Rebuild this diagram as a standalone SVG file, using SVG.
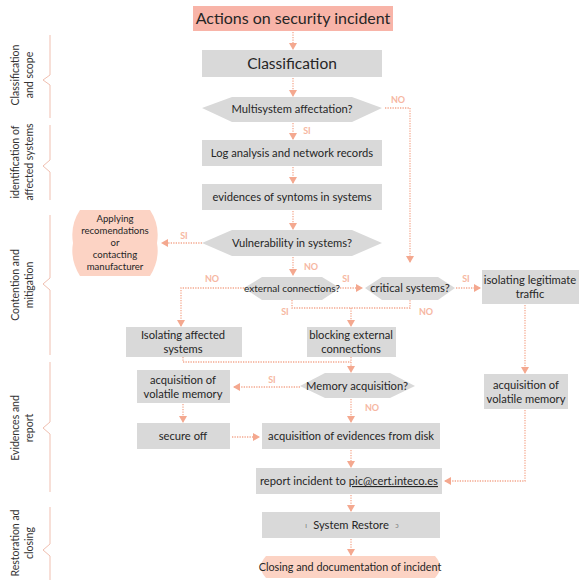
<svg xmlns="http://www.w3.org/2000/svg" width="579" height="580" viewBox="0 0 579 580">
<defs>
<marker id="ah" markerUnits="userSpaceOnUse" markerWidth="10" markerHeight="8" refX="6" refY="4" orient="auto">
<path d="M0,0 L7,4 L0,8 z" fill="#f4a88f"/>
</marker>
<style>
text{font-family:Lato,"Open Sans","DejaVu Sans",sans-serif;fill:#262626;text-anchor:middle}
.box{fill:#d9d9d9}
.dec{fill:#d9d9d9}
.pink{fill:#fcd3c4}
.t12{font-size:11.2px}
.t11{font-size:10px}
.ta{font-size:9.6px}
.lbl{font-size:9px;font-weight:bold;fill:#f6b7a2}
.side{font-size:10.5px;fill:#333}
.br{fill:none;stroke:#f0bfb0;stroke-width:1}
.c{fill:none;stroke:#f4a88f;stroke-width:1.3;stroke-dasharray:1.3 1.2}
.ca{fill:none;stroke:#f4a88f;stroke-width:1.3;stroke-dasharray:1.3 1.2;marker-end:url(#ah)}
</style>
</defs>

<g id="side-labels">
<path class="br" d="M50,35 V75 L43,80 L50,85 V118"/>
<text class="side" transform="translate(19,75) rotate(-90)">Classification</text>
<text class="side" transform="translate(33,75) rotate(-90)">and scope</text>
<path class="br" d="M50,125 V160 L43,166 L50,172 V200"/>
<text class="side" transform="translate(19,162) rotate(-90)">identification of</text>
<text class="side" transform="translate(33,162) rotate(-90)">affected systems</text>
<path class="br" d="M50,215 V278 L43,284 L50,290 V355"/>
<text class="side" transform="translate(19,285) rotate(-90)">Contention and</text>
<text class="side" transform="translate(33,285) rotate(-90)">mitigation</text>
<path class="br" d="M50,362 V422 L43,428 L50,434 V492"/>
<text class="side" transform="translate(19,428) rotate(-90)">Evidences and</text>
<text class="side" transform="translate(33,428) rotate(-90)">report</text>
<path class="br" d="M50,507 V544 L43,550 L50,556 V580"/>
<text class="side" transform="translate(19,543) rotate(-90)">Restoration ad</text>
<text class="side" transform="translate(33,543) rotate(-90)">closing</text>
</g>

<g id="connectors">
<path class="ca" d="M293,32 V49"/>
<path class="ca" d="M293,78 V96"/>
<path class="ca" d="M293,123 V139"/>
<path class="ca" d="M293,167 V183"/>
<path class="ca" d="M293,211 V229"/>
<path class="ca" d="M385,108 H410 V262"/>
<path class="ca" d="M202,243 H162"/>
<path class="ca" d="M293,257 V275"/>
<path class="ca" d="M340,288 H362"/>
<path class="ca" d="M456,288 H480"/>
<path class="ca" d="M244,288 H181 V326"/>
<path class="c" d="M292,300 V308 H410 V300"/>
<path class="ca" d="M351,308 V326"/>
<path class="c" d="M183,357 V362 H351"/>
<path class="ca" d="M351,357 V372"/>
<path class="ca" d="M300,387 H234"/>
<path class="ca" d="M183,404 V422"/>
<path class="ca" d="M232,437 H259"/>
<path class="ca" d="M351,399 V422"/>
<path class="ca" d="M351,450 V467"/>
<path class="ca" d="M525,305 V373"/>
<path class="ca" d="M525,410 V481 H445"/>
<path class="ca" d="M351,495 V511"/>
<path class="ca" d="M351,539 V555"/>
<text class="lbl" x="398" y="103">NO</text>
<text class="lbl" x="307" y="134">SI</text>
<text class="lbl" x="184" y="239">SI</text>
<text class="lbl" x="311" y="270">NO</text>
<text class="lbl" x="346" y="282">SI</text>
<text class="lbl" x="466" y="282">SI</text>
<text class="lbl" x="212" y="282">NO</text>
<text class="lbl" x="285" y="315">SI</text>
<text class="lbl" x="426" y="315">NO</text>
<text class="lbl" x="272" y="383">SI</text>
<text class="lbl" x="372" y="411">NO</text>
</g>

<g id="n-title">
<rect x="193" y="6" width="200" height="25" fill="#f8b4a8"/>
<text x="293" y="24" style="font-size:16px">Actions on security incident</text>
</g>
<g id="n-classification">
<rect class="box" x="202" y="50" width="180" height="27"/>
<text x="292" y="69" style="font-size:15.5px">Classification</text>
</g>
<g id="n-multisystem">
<polygon class="dec" points="202,108 232,97 352,97 382,108 352,122 232,122"/>
<text class="t12" x="292" y="113">Multisystem affectation?</text>
</g>
<g id="n-log">
<rect class="box" x="202" y="140" width="180" height="26"/>
<text class="t12" x="292" y="157">Log analysis and network records</text>
</g>
<g id="n-evidences">
<rect class="box" x="202" y="184" width="180" height="26"/>
<text class="t12" x="292" y="201">evidences of syntoms in systems</text>
</g>
<g id="n-vulnerability">
<polygon class="dec" points="202,243 232,230 352,230 382,243 352,256 232,256"/>
<text class="t12" x="292" y="247">Vulnerability in systems?</text>
</g>
<g id="n-applying">
<path class="pink" d="M80,210 H150 Q160,225 157,243 Q160,260 150,276 H80 Q70,260 73,243 Q70,225 80,210 Z"/>
<text class="ta" x="115" y="222">Applying</text>
<text class="ta" x="115" y="234">recomendations</text>
<text class="ta" x="115" y="246">or</text>
<text class="ta" x="115" y="258">contacting</text>
<text class="ta" x="115" y="270">manufacturer</text>
</g>
<g id="n-external">
<polygon class="dec" points="244,288 262,277 322,277 340,288 322,300 262,300"/>
<text class="t11" x="292" y="292">external connections?</text>
</g>
<g id="n-critical">
<polygon class="dec" points="365,288 382,277 438,277 455,288 438,300 382,300"/>
<text class="t12" x="410" y="292">critical systems?</text>
</g>
<g id="n-legit">
<rect class="box" x="482" y="270" width="97" height="34"/>
<text class="t12" x="530" y="284">isolating legitimate</text>
<text class="t12" x="530" y="298">traffic</text>
</g>
<g id="n-isolating">
<rect class="box" x="126" y="327" width="116" height="30"/>
<text class="t12" x="183" y="339">Isolating affected</text>
<text class="t12" x="183" y="353">systems</text>
</g>
<g id="n-blocking">
<rect class="box" x="307" y="327" width="89" height="30"/>
<text class="t12" x="351" y="339">blocking external</text>
<text class="t12" x="351" y="353">connections</text>
</g>
<g id="n-memory">
<polygon class="dec" points="300,386 325,373 390,373 415,386 390,398 325,398"/>
<text class="t12" x="357" y="390">Memory acquisition?</text>
</g>
<g id="n-volatile1">
<rect class="box" x="137" y="370" width="93" height="33"/>
<text class="t12" x="183" y="384">acquisition of</text>
<text class="t12" x="183" y="398">volatile memory</text>
</g>
<g id="n-secure">
<rect class="box" x="137" y="423" width="93" height="26"/>
<text class="t12" x="183" y="440">secure off</text>
</g>
<g id="n-disk">
<rect class="box" x="262" y="423" width="178" height="26"/>
<text class="t12" x="351" y="440">acquisition of evidences from disk</text>
</g>
<g id="n-volatile2">
<rect class="box" x="484" y="374" width="84" height="35"/>
<text class="t12" x="526" y="389">acquisition of</text>
<text class="t12" x="526" y="403">volatile memory</text>
</g>
<g id="n-report">
<rect class="box" x="256" y="468" width="186" height="26"/>
<text class="t12" x="349" y="485">report incident to <tspan text-decoration="underline">pic@cert.inteco.es</tspan></text>
</g>
<g id="n-restore">
<rect class="box" x="262" y="512" width="178" height="26"/>
<text class="t12" x="351" y="529">System Restore</text>
<text x="306" y="528" style="font-size:7px;fill:#777">ı</text>
<text x="397" y="528" style="font-size:7px;fill:#777">ɔ</text>
</g>
<g id="n-closing">
<path class="pink" d="M266,556 H435 Q445,567 435,578 H266 Q256,567 266,556 Z"/>
<text x="350" y="571" style="font-size:10.8px">Closing and documentation of incident</text>
</g>
</svg>
